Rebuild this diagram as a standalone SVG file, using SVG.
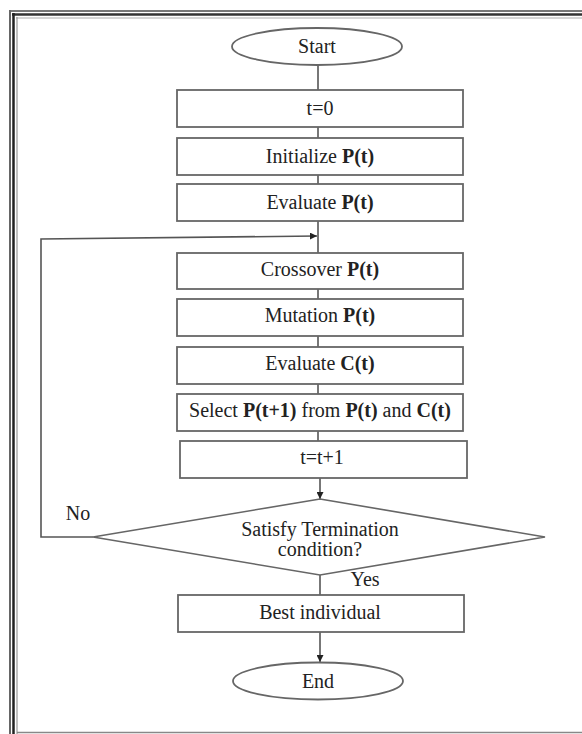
<svg xmlns="http://www.w3.org/2000/svg" width="582" height="734" viewBox="0 0 582 734">
<style>
.box{fill:#fff;stroke:#666;stroke-width:1.8}
.ln{fill:none;stroke:#555;stroke-width:1.6}
.t{font-family:"Liberation Serif","Times New Roman",serif;font-size:20px;fill:#222;text-anchor:middle}
.b{font-weight:bold}
</style>
<defs>
<marker id="ah" viewBox="0 0 10 10" refX="10" refY="5" markerWidth="7" markerHeight="7" orient="auto" markerUnits="userSpaceOnUse">
<path d="M0,0 L10,5 L0,10 z" fill="#222"/>
</marker>
</defs>
<rect width="582" height="734" fill="#fff"/>
<g id="frame">
<line x1="9" y1="11" x2="582" y2="11" stroke="#777" stroke-width="2"/>
<line x1="12" y1="14.5" x2="582" y2="14.5" stroke="#333" stroke-width="2.5"/>
<line x1="16" y1="18" x2="582" y2="18" stroke="#aaa" stroke-width="1"/>
<line x1="10" y1="10" x2="10" y2="734" stroke="#666" stroke-width="2"/>
<line x1="13.5" y1="13" x2="13.5" y2="734" stroke="#222" stroke-width="2.5"/>
<line x1="17" y1="17" x2="17" y2="734" stroke="#999" stroke-width="1.2"/>
<line x1="17" y1="732.5" x2="582" y2="732.5" stroke="#888" stroke-width="1.5"/>
</g>
<g id="connectors">
<line class="ln" x1="318" y1="65" x2="318" y2="90"/>
<line class="ln" x1="318" y1="127" x2="318" y2="138"/>
<line class="ln" x1="318" y1="175" x2="318" y2="184"/>
<line class="ln" x1="318" y1="221" x2="318" y2="253"/>
<line class="ln" x1="318" y1="289" x2="318" y2="299"/>
<line class="ln" x1="318" y1="336" x2="318" y2="347"/>
<line class="ln" x1="318" y1="384" x2="318" y2="394"/>
<line class="ln" x1="318" y1="431" x2="318" y2="441"/>
<line class="ln" x1="320" y1="478" x2="320" y2="499" marker-end="url(#ah)"/>
<polyline class="ln" points="93,537 41,537 41,239 317,236" marker-end="url(#ah)"/>
<line class="ln" x1="320" y1="575" x2="320" y2="595"/>
<line class="ln" x1="320" y1="632" x2="320" y2="662" marker-end="url(#ah)"/>
<text class="t" x="78" y="520">No</text>
<text class="t" x="365" y="586">Yes</text>
</g>
<g id="start">
<ellipse cx="317" cy="46.5" rx="85" ry="18.5" fill="#fff" stroke="#666" stroke-width="1.8"/>
<text class="t" x="317" y="53">Start</text>
</g>
<g id="t0">
<rect class="box" x="177" y="90" width="286" height="37"/>
<text class="t" x="320" y="115">t=0</text>
</g>
<g id="init">
<rect class="box" x="177" y="138" width="286" height="37"/>
<text class="t" x="320" y="163">Initialize <tspan class="b">P(t)</tspan></text>
</g>
<g id="evalP">
<rect class="box" x="177" y="184" width="286" height="37"/>
<text class="t" x="320" y="209">Evaluate <tspan class="b">P(t)</tspan></text>
</g>
<g id="cross">
<rect class="box" x="177" y="253" width="286" height="36"/>
<text class="t" x="320" y="276">Crossover <tspan class="b">P(t)</tspan></text>
</g>
<g id="mut">
<rect class="box" x="177" y="299" width="286" height="37"/>
<text class="t" x="320" y="322">Mutation <tspan class="b">P(t)</tspan></text>
</g>
<g id="evalC">
<rect class="box" x="177" y="347" width="286" height="37"/>
<text class="t" x="320" y="370">Evaluate <tspan class="b">C(t)</tspan></text>
</g>
<g id="select">
<rect class="box" x="177" y="394" width="286" height="37"/>
<text class="t" x="320" y="417">Select <tspan class="b">P(t+1)</tspan> from <tspan class="b">P(t)</tspan> and <tspan class="b">C(t)</tspan></text>
</g>
<g id="inc">
<rect class="box" x="180" y="441" width="287" height="37"/>
<text class="t" x="322" y="464">t=t+1</text>
</g>
<g id="decision">
<polygon points="320,499 545,537 320,575 93,537" fill="#fff" stroke="#666" stroke-width="1.6"/>
<text class="t" x="320" y="536">Satisfy Termination</text>
<text class="t" x="320" y="556">condition?</text>
</g>
<g id="best">
<rect class="box" x="178" y="595" width="286" height="37"/>
<text class="t" x="320" y="619">Best individual</text>
</g>
<g id="end">
<ellipse cx="318" cy="681" rx="85" ry="18.5" fill="#fff" stroke="#666" stroke-width="1.8"/>
<text class="t" x="318" y="688">End</text>
</g>
</svg>
